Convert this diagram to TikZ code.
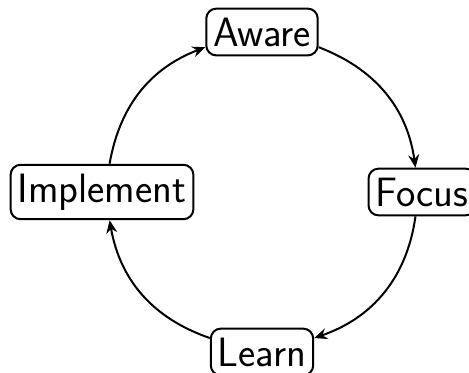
\documentclass[tikz,border=0pt]{standalone}
\usepackage{tikz}
\usetikzlibrary{arrows.meta,calc}

\begin{document}
\begin{tikzpicture}[x=0.5pt, y=0.5pt, >={Stealth[length=6.5pt,width=5.5pt,inset=2.2pt]},
  stage/.style={draw, line width=1pt, rounded corners=5pt, inner xsep=3.5pt, inner ysep=4.5pt,
    font=\sffamily\fontsize{20.5}{24}\selectfont},
  link/.style={->, line width=1pt}]
  \useasboundingbox (0,0) rectangle (469,372);
  \coordinate (c) at (262,180);
  \foreach \name/\ang/\txt in {aware/90/Aware, focus/0/Focus, learn/270/Learn, implement/180/Implement}
    \node[stage] (\name) at ($(c)+(\ang:160)$) {\txt};
  \draw[link] (aware.-15) to[out=-21, in=98] (focus.105);
  \draw[link] (focus.-105) to[out=-98, in=19] (learn.15);
  \draw[link] (learn.165) to[out=161, in=-80] (implement.-75);
  \draw[link] (implement.75) to[out=80, in=201] (aware.195);
\end{tikzpicture}
\end{document}
